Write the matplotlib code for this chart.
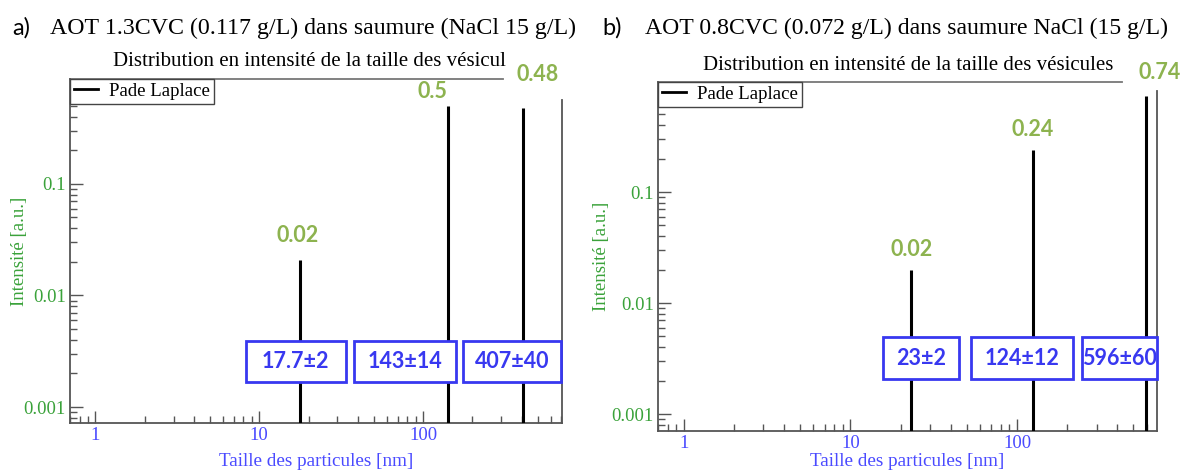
import numpy as np
import matplotlib as mpl
mpl.use('agg')
import matplotlib.pyplot as plt
from matplotlib.patches import Rectangle
from matplotlib.lines import Line2D
from matplotlib.transforms import Bbox

## data
size_a = [17.7, 143.0, 407.0]
inten_a = [0.021, 0.5, 0.48]
peak_lab_a = ['0.02', '0.5', '0.48']
box_lab_a = ['17.7±2', '143±14', '407±40']

size_b = [23.0, 124.0, 596.0]
inten_b = [0.02, 0.24, 0.74]
peak_lab_b = ['0.02', '0.24', '0.74']
box_lab_b = ['23±2', '124±12', '596±60']

xticks = [1, 10, 100]
xtick_lab = ['1', '10', '100']
yticks = [0.001, 0.01, 0.1]
ytick_lab = ['0.001', '0.01', '0.1']

serif = 'Liberation Serif'
sans = 'Lato'
green_tk = '#3aa23a'
green_pk = '#8db34f'
blue_tk = '#4a4aff'
blue_box = '#3838f0'
spine_c = '#555555'

W, H = 1181, 471
fig = plt.figure(figsize=(W/100, H/100), dpi=100)

def px(x0, y0, x1, y1):
    # pixel box (top-left origin) -> figure fraction rect
    return [x0/W, 1-y1/H, (x1-x0)/W, (y1-y0)/H]

def setup(ax, xlim, ylim, top_end, right_start, xl_pos, yl_pos):
    ax.set_xscale('log')
    ax.set_yscale('log')
    ax.set_xlim(*xlim)
    ax.set_ylim(*ylim)
    ax.spines['top'].set_visible(False)
    ax.spines['right'].set_visible(False)
    for s in ['left', 'bottom']:
        ax.spines[s].set_color(spine_c)
        ax.spines[s].set_linewidth(1.3)
    ax.add_line(Line2D([0, top_end], [1, 1], transform=ax.transAxes, color='#777777', lw=1.3, clip_on=False))
    ax.add_line(Line2D([1, 1], [0, right_start], transform=ax.transAxes, color=spine_c, lw=1.3, clip_on=False))
    ax.tick_params(which='major', direction='in', length=9, width=1.0, color=spine_c, top=False, right=False)
    ax.tick_params(which='minor', direction='in', length=5, width=1.0, color=spine_c, top=False, right=False)
    ax.set_xticks(xticks)
    ax.set_xticklabels(xtick_lab, fontfamily=serif, fontsize=13.5, color=blue_tk)
    ax.set_yticks(yticks)
    ax.set_yticklabels(ytick_lab, fontfamily=serif, fontsize=13.5, color=green_tk)
    ax.tick_params(axis='x', pad=3)
    ax.tick_params(axis='y', pad=3)
    ax.set_xlabel('Taille des particules [nm]', fontfamily=serif, fontsize=13.8, color=blue_tk, va='center')
    ax.set_ylabel('Intensité [a.u.]', fontfamily=serif, fontsize=13.5, color=green_tk, va='center')
    ax.xaxis.set_label_coords(0.5, xl_pos)
    ax.yaxis.set_label_coords(yl_pos, 0.5)

def draw(ax, sizes, intens, plabs, offs, blabs, bx, bw, by, bh):
    ax.vlines(sizes, 1e-5, intens, colors='black', lw=2.2, zorder=3)
    leg = ax.legend(handles=[Line2D([], [], color='black', lw=2.0)], labels=['Pade Laplace'],
                    loc='upper left', bbox_to_anchor=(0, 1), borderaxespad=0, fancybox=False,
                    framealpha=1, edgecolor='#444444', handlelength=1.3, handletextpad=0.6,
                    borderpad=0.2, prop={'family': serif, 'size': 13.5})
    leg.get_frame().set_linewidth(1.0)
    for x, h, t, (dx, dy) in zip(sizes, intens, plabs, offs):
        ax.annotate(t, xy=(x, h), xytext=(dx*0.72, dy*0.72), textcoords='offset points',
                    ha='center', va='center', fontfamily=sans, fontweight='bold',
                    fontsize=15.5, color=green_pk, annotation_clip=False)
    for t, cx, w in zip(blabs, bx, bw):
        ax.add_patch(Rectangle((cx - w/2, by - bh/2), w, bh, transform=ax.transAxes,
                               facecolor='white', edgecolor=blue_box, lw=2.0, zorder=5, clip_on=False))
        ax.text(cx, by, t, transform=ax.transAxes, ha='center', va='center', fontfamily=sans,
                fontweight='bold', fontsize=15.5, color=blue_box, zorder=6)

## panel a
ax1 = fig.add_axes(px(70, 79, 562, 423))
setup(ax1, (0.70, 705), (0.00072, 0.87), 0.88, 0.939, -0.113, -0.102)
draw(ax1, size_a, inten_a, peak_lab_a, [(-2, 24), (-16, 14), (15, 33)],
     box_lab_a, [0.459, 0.681, 0.898], [100/492, 102/492, 98/492], 0.180, 41/344)

## panel b
ax2 = fig.add_axes(px(658, 82, 1157, 431))
setup(ax2, (0.70, 692), (0.000703, 0.98), 0.93, 0.974, -0.086, -0.114)
draw(ax2, size_b, inten_b, peak_lab_b, [(1, 20), (0, 20), (13, 23)],
     box_lab_b, [0.527, 0.729, 0.924], [76/499, 102/499, 75/499], 0.209, 42/349)

## titles
fig.text(12/W, 1-28/H, 'a)', fontfamily=sans, fontsize=17, va='center', ha='left')
fig.text(50/W, 1-28/H, 'AOT 1.3CVC (0.117 g/L) dans saumure (NaCl 15 g/L)', fontfamily=serif, fontsize=17.2, va='center', ha='left')
fig.text(602/W, 1-28/H, 'b)', fontfamily=sans, fontsize=17, va='center', ha='left')
fig.text(645/W, 1-28/H, 'AOT 0.8CVC (0.072 g/L) dans saumure NaCl (15 g/L)', fontfamily=serif, fontsize=17.1, va='center', ha='left')

sub = 'Distribution en intensité de la taille des vésicules'
t1 = fig.text(113/W, 1-61/H, sub, fontfamily=serif, fontsize=15, va='center', ha='left')
t1.set_clip_box(Bbox([[0, 0], [506, H]]))
t1.set_clip_on(True)
fig.text(703/W, 1-65/H, sub, fontfamily=serif, fontsize=15, va='center', ha='left')

fig.savefig('out.png', dpi=100)
